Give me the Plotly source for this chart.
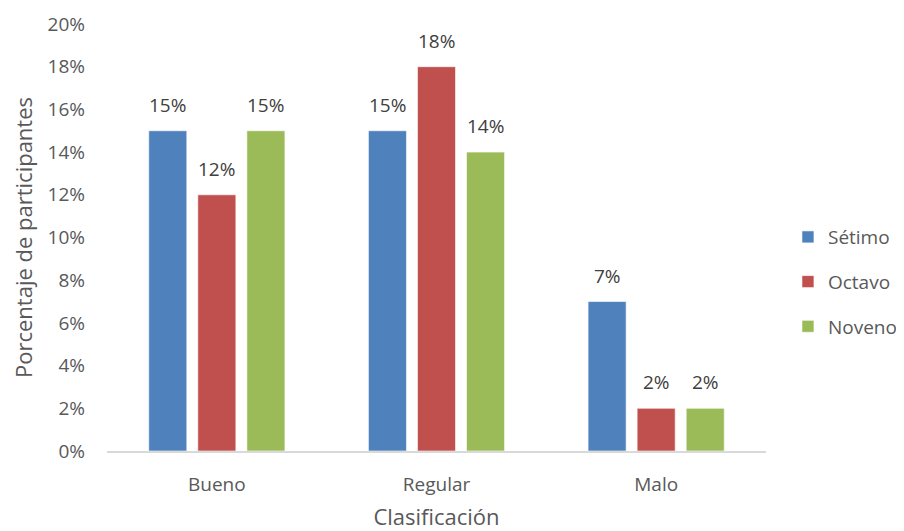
import plotly.graph_objects as go

categories = ["Bueno", "Regular", "Malo"]
series_names = ["Sétimo", "Octavo", "Noveno"]
setimo = [0.15, 0.15, 0.07]
octavo = [0.12, 0.18, 0.02]
noveno = [0.15, 0.14, 0.02]
y_ticks = [0, 0.02, 0.04, 0.06, 0.08, 0.10, 0.12, 0.14, 0.16, 0.18, 0.20]
y_tick_labels = ["0%", "2%", "4%", "6%", "8%", "10%", "12%", "14%", "16%", "18%", "20%"]

colors = ["#4f81bd", "#c0504d", "#9bbb59"]
values = [setimo, octavo, noveno]
FONT = "'Open Sans', sans-serif"
TXT = "#595959"

fig = go.Figure()
for i, (name, vals) in enumerate(zip(series_names, values)):
    fig.add_trace(go.Bar(
        x=categories, y=vals, name=name,
        marker=dict(color=colors[i], line=dict(color="rgba(255,255,255,0.6)", width=1)),
        legendgroup=name,
    ))

annotations = []
slot_px = 49
for i, vals in enumerate(values):
    for c, v in zip(categories, vals):
        annotations.append(dict(
            x=c, y=v, xref="x", yref="y", text=f"{round(v*100)}%",
            showarrow=False, xshift=(i - 1) * slot_px, yshift=26, yanchor="middle",
            font=dict(family=FONT, size=19, color="#404040"),
        ))

# page body has an 8px margin, so the figure is shrunk by 8px and margins adjusted
fig.update_layout(
    width=896, height=523,
    margin=dict(l=99, r=138, t=16, b=80),
    paper_bgcolor="white", plot_bgcolor="white",
    barmode="group", bargap=0.33, bargroupgap=0.224,
    font=dict(family=FONT, size=19, color=TXT),
    annotations=annotations,
    legend=dict(xref="container", yref="container", x=0.8705, y=0.476,
                xanchor="left", yanchor="middle",
                font=dict(family=FONT, size=19, color=TXT),
                tracegroupgap=17, traceorder="grouped", itemwidth=30),
    showlegend=True,
)
fig.update_xaxes(
    showline=True, linecolor="#d9d9d9", linewidth=1.5, ticks="", showgrid=False,
    automargin=False, ticklabelstandoff=15,
    tickfont=dict(family=FONT, size=19, color=TXT),
    title=dict(text="Clasificación", font=dict(family=FONT, size=22, color=TXT), standoff=20),
)
fig.update_yaxes(
    range=[0, 0.2], tickvals=y_ticks, ticktext=y_tick_labels, showgrid=False,
    showline=False, zeroline=False, ticks="", ticklabelstandoff=21, automargin=False,
    tickfont=dict(family=FONT, size=19, color=TXT),
    title=dict(text="Porcentaje de participantes", font=dict(family=FONT, size=22, color=TXT), standoff=22),
)

fig.write_html("out.html")
